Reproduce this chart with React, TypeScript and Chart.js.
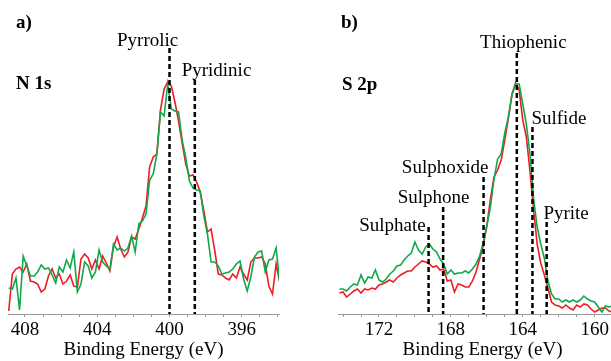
import React, { useEffect, useRef } from "react";
import { Chart, registerables } from "chart.js";

Chart.register(...registerables);

// ---------- Panel a) N 1s ----------
const energyA = [
  408.9, 408.7, 408.5, 408.3, 408.1, 407.9, 407.7, 407.5, 407.3, 407.1,
  406.9, 406.7, 406.5, 406.3, 406.1, 405.9, 405.7, 405.5, 405.3, 405.1,
  404.9, 404.7, 404.5, 404.3, 404.1, 403.9, 403.7, 403.5, 403.3, 403.1,
  402.9, 402.7, 402.5, 402.3, 402.1, 401.9, 401.7, 401.5, 401.3, 401.1,
  400.9, 400.7, 400.5, 400.3, 400.1, 399.9, 399.7, 399.5, 399.3, 399.1,
  398.9, 398.7, 398.5, 398.3, 398.1, 397.9, 397.7, 397.5, 397.3, 397.1,
  396.9, 396.7, 396.5, 396.3, 396.1, 395.9, 395.7, 395.5, 395.3, 395.1,
  394.9, 394.7, 394.5, 394.3, 394.1, 393.9,
];
const n1sRed = [
  3, 40, 45, 47, 42, 50, 33, 32, 30, 22,
  25, 38, 45, 36, 40, 30, 33, 39, 28, 27,
  55, 60, 56, 45, 54, 45, 58, 51, 43, 67,
  77, 65, 57, 62, 77, 75, 85, 96, 108, 147,
  157, 160, 204, 225, 232, 228, 212, 193, 171, 150,
  138, 139, 132, 122, 103, 82, 85, 64, 40, 39,
  36, 34, 40, 36, 47, 40, 34, 52, 56, 56,
  57, 50, 28, 20, 50, 32,
];
const n1sGreen = [
  26, 25, 36, 4, 58, 48, 38, 38, 42, 49,
  45, 46, 39, 31, 47, 42, 54, 46, 62, 22,
  30, 52, 48, 36, 42, 64, 52, 48, 45, 70,
  64, 66, 63, 66, 78, 62, 90, 93, 100, 134,
  140, 160, 202, 198, 230, 205, 203, 202, 174, 156,
  133, 126, 124, 123, 98, 80, 52, 52, 48, 40,
  41, 42, 45, 50, 53, 35, 23, 37, 57, 62,
  63, 42, 54, 55, 66, 32,
];
const ticksA = [394, 395, 396, 397, 398, 399, 400, 401, 402, 403, 404, 405, 406, 407, 408];
const tickLabelsA = [396, 400, 404, 408];
const markersA = [
  { x: 400.0, top: 266 },
  { x: 398.6, top: 234 },
];
const labelsA = [
  { text: "Pyrrolic", x: 401.21, y: 268 },
  { text: "Pyridinic", x: 397.4, y: 238 },
];

// ---------- Panel b) S 2p ----------
const energyB = [
  174.2, 174.0, 173.8, 173.6, 173.4, 173.2, 173.0, 172.8, 172.6, 172.4,
  172.2, 172.0, 171.8, 171.6, 171.4, 171.2, 171.0, 170.8, 170.6, 170.4,
  170.2, 170.0, 169.8, 169.6, 169.4, 169.2, 169.0, 168.8, 168.6, 168.4,
  168.2, 168.0, 167.8, 167.6, 167.4, 167.2, 167.0, 166.8, 166.6, 166.4,
  166.2, 166.0, 165.8, 165.6, 165.4, 165.2, 165.0, 164.8, 164.6, 164.4,
  164.2, 164.0, 163.8, 163.6, 163.4, 163.2, 163.0, 162.8, 162.6, 162.4,
  162.2, 162.0, 161.8, 161.6, 161.4, 161.2, 161.0, 160.8, 160.6, 160.4,
  160.2, 160.0, 159.8, 159.6, 159.4, 159.2, 159.0,
];
const s2pRed = [
  21, 22, 17, 20, 23, 25, 21, 25, 24, 26,
  25, 29, 30, 32, 34, 32, 36, 39, 41, 43,
  43, 47, 50, 53, 52, 50, 47, 48, 44, 45,
  33, 34, 22, 30, 29, 27, 27, 33, 42, 55,
  68, 88, 115, 137, 144, 154, 174, 196, 220, 231,
  224, 194, 177, 143, 105, 70, 51, 39, 26, 12,
  9, 8, 6, 9, 6, 4, 9, 7, 10, 9,
  5, 2, 4, 6, 6, 3, 2,
];
const s2pGreen = [
  25, 25, 23, 27, 30, 29, 39, 31, 37, 36,
  44, 34, 32, 35, 40, 43, 48, 49, 54, 58,
  61, 72, 64, 60, 67, 70, 65, 62, 55, 50,
  40, 44, 40, 41, 41, 43, 41, 45, 50, 58,
  71, 88, 107, 135, 155, 160, 181, 197, 219, 230,
  230, 210, 190, 160, 116, 87, 70, 56, 33, 20,
  15, 15, 12, 14, 12, 14, 12, 14, 18, 15,
  13, 12, 7, 2, 8, 7, 8,
];
const ticksB = [159, 160, 161, 162, 163, 164, 165, 166, 167, 168, 169, 170, 171, 172, 173, 174];
const tickLabelsB = [160, 164, 168, 172];
const markersB = [
  { x: 164.33, top: 261 },
  { x: 163.46, top: 187 },
  { x: 162.67, top: 92 },
  { x: 166.18, top: 137 },
  { x: 168.43, top: 107 },
  { x: 169.24, top: 87 },
];
const labelsB = [
  { text: "Thiophenic", x: 163.97, y: 266 },
  { text: "Sulfide", x: 161.99, y: 190 },
  { text: "Pyrite", x: 161.59, y: 95 },
  { text: "Sulphoxide", x: 168.32, y: 141 },
  { text: "Sulphone", x: 168.96, y: 111 },
  { text: "Sulphate", x: 171.25, y: 83 },
];

const FONT = '"Liberation Serif", "Times New Roman", serif';
const RED = "#ee1c24";
const GREEN = "#10a84a";

const annotPlugin = {
  id: "annot",
  afterDatasetsDraw(chart: any, _args: any, opts: any) {
    const { ctx } = chart;
    const xs = chart.scales.x;
    const ys = chart.scales.y;
    ctx.save();
    ctx.fillStyle = "#000";
    ctx.textBaseline = "alphabetic";
    ctx.font = `19px ${FONT}`;
    ctx.textAlign = "center";
    for (const l of opts.labels || []) {
      ctx.fillText(l.text, xs.getPixelForValue(l.x), ys.getPixelForValue(l.y));
    }
    ctx.font = `bold 19px ${FONT}`;
    ctx.textAlign = "left";
    for (const t of opts.tags || []) {
      ctx.fillText(t.text, t.left, t.baseline);
    }
    ctx.restore();
  },
};

type PanelProps = {
  width: number;
  left: number;
  padLeft: number;
  padRight: number;
  xMin: number;
  xMax: number;
  energy: number[];
  red: number[];
  green: number[];
  ticks: number[];
  tickLabels: number[];
  markers: { x: number; top: number }[];
  labels: { text: string; x: number; y: number }[];
  tags: { text: string; left: number; baseline: number }[];
};

function Panel(p: PanelProps) {
  const ref = useRef<HTMLCanvasElement | null>(null);
  useEffect(() => {
    if (!ref.current) return;
    const markerSets = p.markers.map((m) => ({
      type: "line" as const,
      data: [
        { x: m.x, y: m.top },
        { x: m.x, y: 0 },
      ],
      borderColor: "#000",
      borderWidth: 2.5,
      borderDash: [5, 3],
      pointRadius: 0,
      tension: 0,
      order: 0,
    }));
    const chart = new Chart(ref.current, {
      type: "line",
      data: {
        datasets: [
          ...markerSets,
          {
            data: p.energy.map((e, i) => ({ x: e, y: p.green[i] })),
            borderColor: GREEN,
            borderWidth: 1.6,
            pointRadius: 0,
            tension: 0,
            order: 1,
          },
          {
            data: p.energy.map((e, i) => ({ x: e, y: p.red[i] })),
            borderColor: RED,
            borderWidth: 1.6,
            pointRadius: 0,
            tension: 0,
            order: 2,
          },
        ] as any,
      },
      options: {
        responsive: false,
        animation: false,
        devicePixelRatio: 1,
        layout: { padding: { left: p.padLeft, right: p.padRight, top: 0, bottom: 0 } },
        plugins: {
          legend: { display: false },
          tooltip: { enabled: false },
          annot: { labels: p.labels, tags: p.tags },
        } as any,
        scales: {
          x: {
            type: "linear",
            reverse: true,
            min: p.xMin,
            max: p.xMax,
            afterBuildTicks: (axis: any) => {
              axis.ticks = p.ticks.map((v) => ({ value: v }));
            },
            afterFit: (axis: any) => {
              axis.height = 47;
            },
            grid: {
              display: true,
              drawOnChartArea: false,
              drawTicks: true,
              tickLength: 3,
              color: "#9a9a9a",
              lineWidth: 1,
            },
            border: { display: true, color: "#9a9a9a", width: 1 },
            ticks: {
              autoSkip: false,
              maxRotation: 0,
              minRotation: 0,
              padding: 2,
              color: "#000",
              font: { family: FONT, size: 19 },
              callback: (v: any) => (p.tickLabels.includes(Number(v)) ? String(v) : ""),
            },
            title: {
              display: true,
              text: "Binding Energy (eV)",
              color: "#000",
              font: { family: FONT, size: 19 },
              padding: { top: 0, bottom: 0 },
            },
          },
          y: {
            type: "linear",
            display: false,
            min: 0,
            max: 314,
          },
        },
      } as any,
      plugins: [annotPlugin as any],
    });
    return () => chart.destroy();
  }, []);
  return (
    <canvas
      ref={ref}
      width={p.width}
      height={361}
      style={{ position: "absolute", left: p.left, top: 0, width: p.width, height: 361 }}
    />
  );
}

export default function App() {
  return (
    <div
      style={{
        position: "fixed",
        left: 0,
        top: 0,
        width: 611,
        height: 361,
        overflow: "hidden",
        background: "#fff",
      }}
    >
      <Panel
        width={305}
        left={0}
        padLeft={8}
        padRight={26}
        xMin={393.94}
        xMax={408.94}
        energy={energyA}
        red={n1sRed}
        green={n1sGreen}
        ticks={ticksA}
        tickLabels={tickLabelsA}
        markers={markersA}
        labels={labelsA}
        tags={[
          { text: "a)", left: 16, baseline: 28 },
          { text: "N 1s", left: 16, baseline: 89 },
        ]}
      />
      <Panel
        width={322}
        left={305}
        padLeft={33}
        padRight={0}
        xMin={158.2}
        xMax={174.28}
        energy={energyB}
        red={s2pRed}
        green={s2pGreen}
        ticks={ticksB}
        tickLabels={tickLabelsB}
        markers={markersB}
        labels={labelsB}
        tags={[
          { text: "b)", left: 36, baseline: 28 },
          { text: "S 2p", left: 37, baseline: 90 },
        ]}
      />
    </div>
  );
}
